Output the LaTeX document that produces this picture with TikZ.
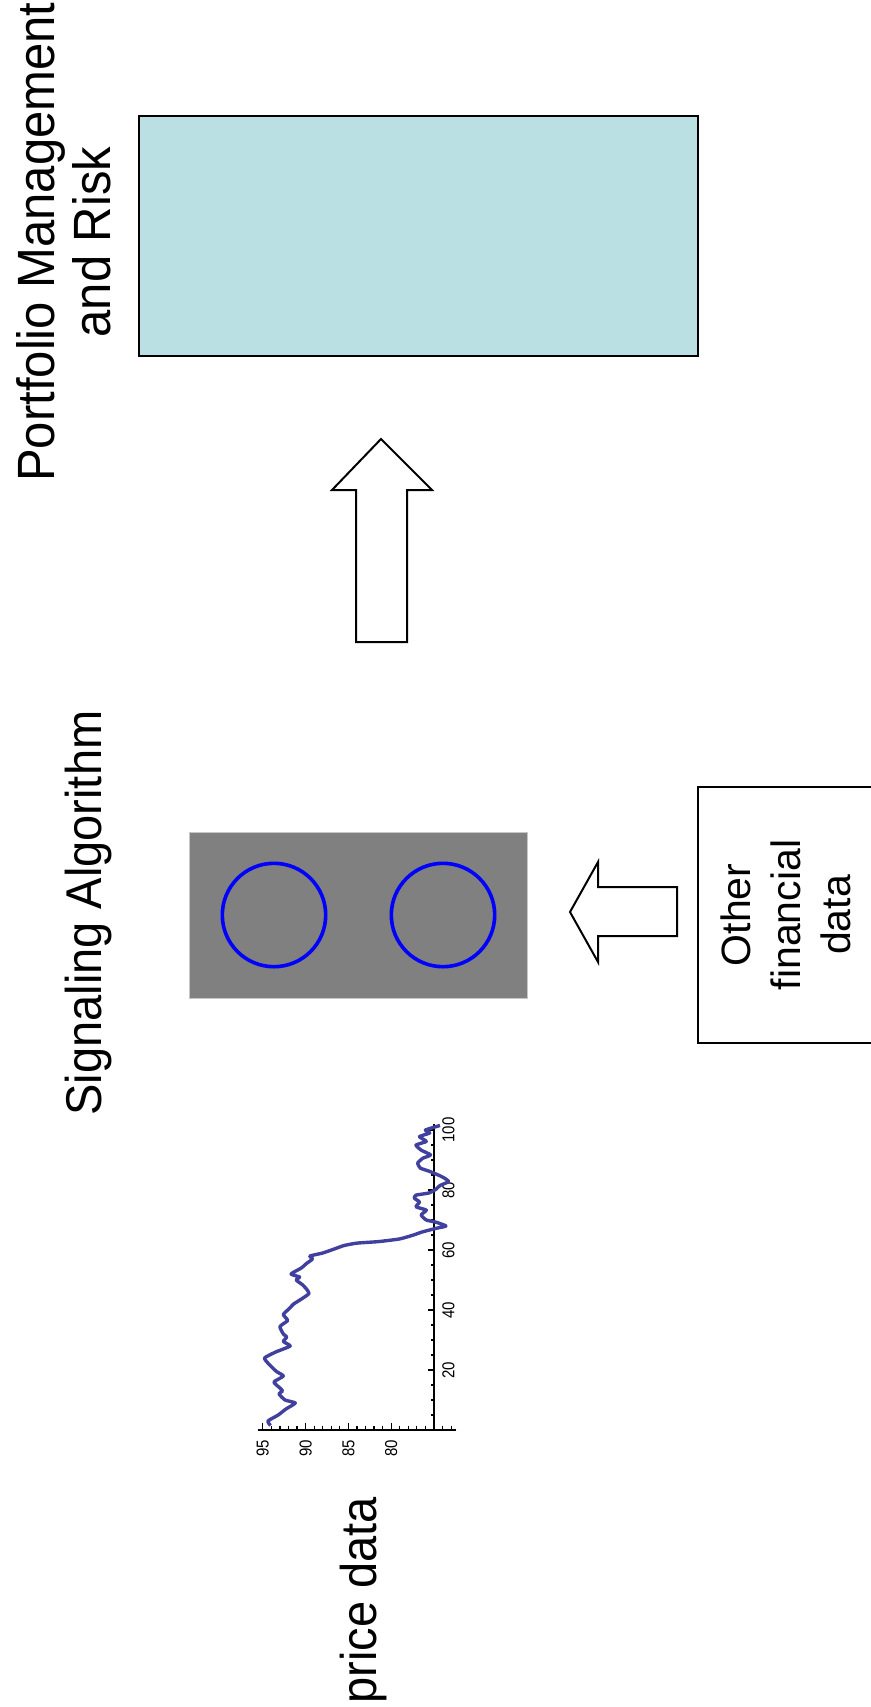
\documentclass[tikz,border=0pt]{standalone}
\usepackage{fontspec}
\setmainfont{Liberation Sans}

\definecolor{pmfill}{HTML}{BBE0E3}
\definecolor{plotblue}{RGB}{64,64,158}

\begin{document}
\begin{tikzpicture}[x=0.5pt, y=-0.5pt,
	bigtext/.style = {rotate=90, yscale=1.07, anchor=base, font=\fontsize{23.5}{24}\selectfont},
	box/.style = {draw, line width=1pt, inner sep=0pt},
	ring/.style = {draw=blue, line width=1.8pt, circle, minimum size=51.7pt, inner sep=0pt},
	blockarrow/.style = {draw, line width=1pt, fill=white, line join=miter},
	ticklabel/.style = {rotate=90, yscale=1.15, font=\fontsize{7.5}{8}\selectfont, inner sep=0pt}]
	\useasboundingbox (0,0) rectangle (871,1707);

	% output stage
	\node[box, fill=pmfill, minimum width=279.5pt, minimum height=120pt] (pm) at (418.5,236) {};
	\node[bigtext, anchor=center, align=center, font=\fontsize{24.5}{26}\selectfont] (pmtext) at (64,242) {Portfolio Management\\and Risk};

	% signalling stage
	\node[box, draw=gray!45, line width=0.5pt, fill=gray, minimum width=169pt, minimum height=83pt] (algo) at (358,915) {};
	\node[ring] (ring1) at (274,915) {};
	\node[ring] (ring2) at (443,915) {};
	\node[bigtext] (algotext) at (101,913) {Signaling Algorithm};

	% extra inputs
	\node[box, rotate=90, minimum width=128pt, minimum height=87.5pt, align=center,
		font=\fontsize{20.5}{25}\selectfont] (other) at (785.5,915) {Other\\financial\\data};

	% block arrows
	\draw[blockarrow] (381,439) -- (432,490) -- (407,490) -- (407,642) -- (356,642) -- (356,490) -- (332,490) -- cycle;
	\draw[blockarrow] (570,912) -- (598,862) -- (598,887) -- (677,887) -- (677,936) -- (598,936) -- (598,962) -- cycle;

	% price chart, (time, price)
	\begin{scope}[shift={(538pt,-715pt)}, x={(0pt,1.5pt)}, y={(-4.28pt,0pt)}]
		\draw[line width=0.8pt] (0,72.4) -- (0,95.6);
		\draw[line width=0.8pt] (0,75) -- (102,75);
		\foreach \t in {5,10,...,100}
			\draw[line width=0.6pt] (\t,75) -- (\t,75.4);
		\foreach \t in {20,40,...,100}
			\draw[line width=0.6pt] (\t,75) -- (\t,75.75) node[ticklabel] at (\t,73.3) {\t};
		\foreach \p in {73,...,95}
			\draw[line width=0.6pt] (0,\p) -- (1.2,\p);
		\foreach \p in {80,85,90,95}
			\draw[line width=0.6pt] (0,\p) -- (2.2,\p) node[ticklabel] at (-6,\p) {\p};
		\draw[plotblue, line width=1.7pt, line join=round] plot[smooth, tension=0.3] coordinates {
			(1.5,94.1) (3,94.4) (5,93.2) (7,92.3) (9,91.2) (10,92.4) (12,93.1) (13,92.7) (14,93.0)
			(16,93.7) (18,92.6) (19.5,93.4) (22,94.3) (24,94.8) (26,93.5) (28,91.8)
			(29.5,92.6) (31,92.2) (32,92.6) (34.5,93.0) (36.5,92.1) (38.5,92.6) (40.5,91.9) (42,91.4)
			(44,90.3) (45.5,89.6) (47,89.9) (48.5,90.4) (50,91.1) (51,90.7) (52,91.7) (54,90.5)
			(55.5,89.9) (57,89.2) (58,89.5) (59,88.0) (60.5,86.5) (61.5,85.5) (62.3,84.0) (62.8,81.5)
			(63.7,79.0) (65,77.4) (66,76.4) (67.2,74.8) (68,73.6) (69.3,74.8) (70,75.9)
			(71.7,76.5) (73.3,75.9) (74.4,77.1) (76,76.7) (77.3,77.3) (78.3,77.1) (79,75.6)
			(80.2,74.8) (81.5,74.3) (82.8,73.3) (84,73.8) (85,74.5) (86.2,75.5) (87.3,76.6)
			(89,76.9) (90.6,76.3) (91.7,75.4) (93.3,76.5) (95,77.1) (96.2,75.9) (97.8,76.7)
			(99,75.5) (100,76.0) (101.5,74.3)};
	\end{scope}
	\node[bigtext] (pricetext) at (376,1600) {price data};
\end{tikzpicture}
\end{document}
